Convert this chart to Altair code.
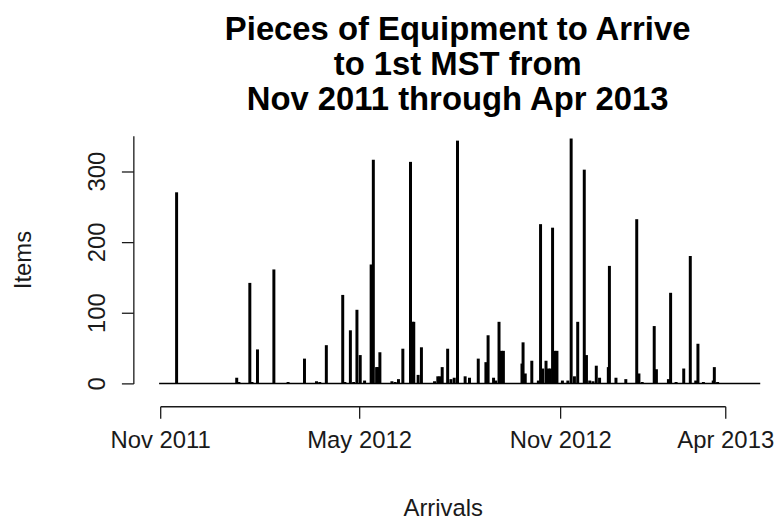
import altair as alt
import pandas as pd

# ---- data ----
dates = [
    "2011-11-16", "2012-01-10", "2012-01-12", "2012-01-22", "2012-01-24", "2012-01-29",
    "2012-02-13", "2012-02-26", "2012-03-12", "2012-03-23", "2012-03-26", "2012-04-01",
    "2012-04-16", "2012-04-18", "2012-04-23", "2012-04-26", "2012-04-29", "2012-05-02",
    "2012-05-06", "2012-05-12", "2012-05-14", "2012-05-17", "2012-05-18", "2012-05-20",
    "2012-05-31", "2012-06-03", "2012-06-06", "2012-06-10", "2012-06-17", "2012-06-19",
    "2012-06-20", "2012-06-24", "2012-06-27", "2012-07-09", "2012-07-12", "2012-07-14",
    "2012-07-16", "2012-07-21", "2012-07-24", "2012-07-27", "2012-07-30", "2012-08-06",
    "2012-08-10", "2012-08-18", "2012-08-25", "2012-08-27", "2012-09-01", "2012-09-03",
    "2012-09-06", "2012-09-08", "2012-09-10", "2012-09-27", "2012-09-28", "2012-09-30",
    "2012-10-06", "2012-10-12", "2012-10-14", "2012-10-16", "2012-10-19", "2012-10-21",
    "2012-10-23", "2012-10-25", "2012-10-27", "2012-10-29", "2012-11-03", "2012-11-08",
    "2012-11-11", "2012-11-14", "2012-11-17", "2012-11-23", "2012-11-25", "2012-11-28",
    "2012-12-01", "2012-12-04", "2012-12-07", "2012-12-15", "2012-12-16", "2012-12-22",
    "2012-12-31", "2013-01-10", "2013-01-12", "2013-01-15", "2013-01-26", "2013-01-28",
    "2013-02-08", "2013-02-10", "2013-02-15", "2013-02-22", "2013-02-28", "2013-03-05",
    "2013-03-07", "2013-03-12", "2013-03-21", "2013-03-22", "2013-03-25",
]
items = [
    270, 8, 2, 142, 2, 48,
    161, 2, 35, 3, 2, 54,
    125, 2, 75, 2, 104, 40,
    4, 168, 316, 23, 23, 44,
    3, 2, 6, 49, 313, 87,
    87, 12, 51, 3, 10, 10,
    23, 49, 6, 8, 343, 10,
    8, 35, 30, 68, 8, 4,
    87, 46, 46, 28, 58, 14,
    32, 4, 225, 21, 32, 21,
    21, 220, 46, 46, 4, 4,
    346, 10, 87, 302, 40, 4,
    3, 25, 8, 23, 166, 8,
    6, 232, 14, 2, 81, 20,
    6, 128, 2, 21, 180, 4,
    56, 2, 4, 23, 2,
]
baseline_start = ["2011-10-31"]
baseline_end = ["2013-05-03"]

title_lines = ["Pieces of Equipment to Arrive", "to 1st MST from", "Nov 2011 through Apr 2013"]
x_title = "Arrivals"
y_title = "Items"
x_tick_dates = [(2011, 11, 1), (2012, 5, 1), (2012, 11, 1), (2013, 4, 1)]
y_tick_values = [0, 50, 100, 150, 200, 250, 300, 350]

FONT = "Liberation Sans"
INK = "#1a1a1a"

df = pd.DataFrame({"date": dates, "items": items})
base_df = pd.DataFrame({"start": baseline_start, "end": baseline_end, "zero": [0]})

def dt(y, m, d):
    return alt.DateTime(year=y, month=m, date=d, utc=True)

x_scale = alt.Scale(type="utc", domain=[dt(2011, 11, 1), dt(2013, 4, 1)])
y_scale = alt.Scale(domain=[0, 350], nice=False, zero=True)

x_axis = alt.Axis(
    values=[dt(*t) for t in x_tick_dates],
    labelExpr="utcFormat(datum.value, '%b %Y')",
    grid=False, offset=23, tickSize=12, tickWidth=1.3, domainWidth=1.3,
    domainColor=INK, tickColor=INK,
    labelFontSize=24, labelFont=FONT, labelColor=INK, labelPadding=10,
    labelFlush=False, labelOverlap=False,
    title=x_title, titleFontSize=24, titleFont=FONT, titleFontWeight="normal",
    titleColor=INK, titlePadding=45,
)
y_axis = alt.Axis(
    values=y_tick_values,
    labelExpr="datum.value % 100 == 0 ? datum.label : ''",
    grid=False, offset=27, tickSize=12, tickWidth=1.3, domainWidth=1.3,
    domainColor=INK, tickColor=INK,
    labelAngle=270, labelAlign="center", labelBaseline="bottom",
    labelFontSize=24, labelFont=FONT, labelColor=INK, labelPadding=12,
    labelFlush=False, labelOverlap=False,
    title=y_title, titleFontSize=24, titleFont=FONT, titleFontWeight="normal",
    titleColor=INK, titlePadding=50,
)

bars = alt.Chart(df).mark_rule(color="black", strokeWidth=3, strokeCap="butt", clip=False).encode(
    x=alt.X("date:T", scale=x_scale, axis=x_axis),
    y=alt.Y("items:Q", scale=y_scale, axis=y_axis),
    y2=alt.datum(0),
)

baseline = alt.Chart(base_df).mark_rule(color="black", strokeWidth=1.5, clip=False).encode(
    x=alt.X("start:T", scale=x_scale),
    x2="end:T",
    y=alt.Y("zero:Q", scale=y_scale),
)

chart = alt.layer(bars, baseline).properties(
    width=568,
    height=249,
    autosize=alt.AutoSizeParams(type="none"),
    padding={"left": 153, "top": 127, "right": 50, "bottom": 140},
    title=alt.TitleParams(
        text=title_lines, font=FONT, fontSize=33, fontWeight="bold",
        lineHeight=35, anchor="middle", color="black", offset=19, dx=15,
    ),
).configure(background="white").configure_view(stroke=None)

chart.save("out.html", embed_options={"renderer": "svg", "actions": False})
